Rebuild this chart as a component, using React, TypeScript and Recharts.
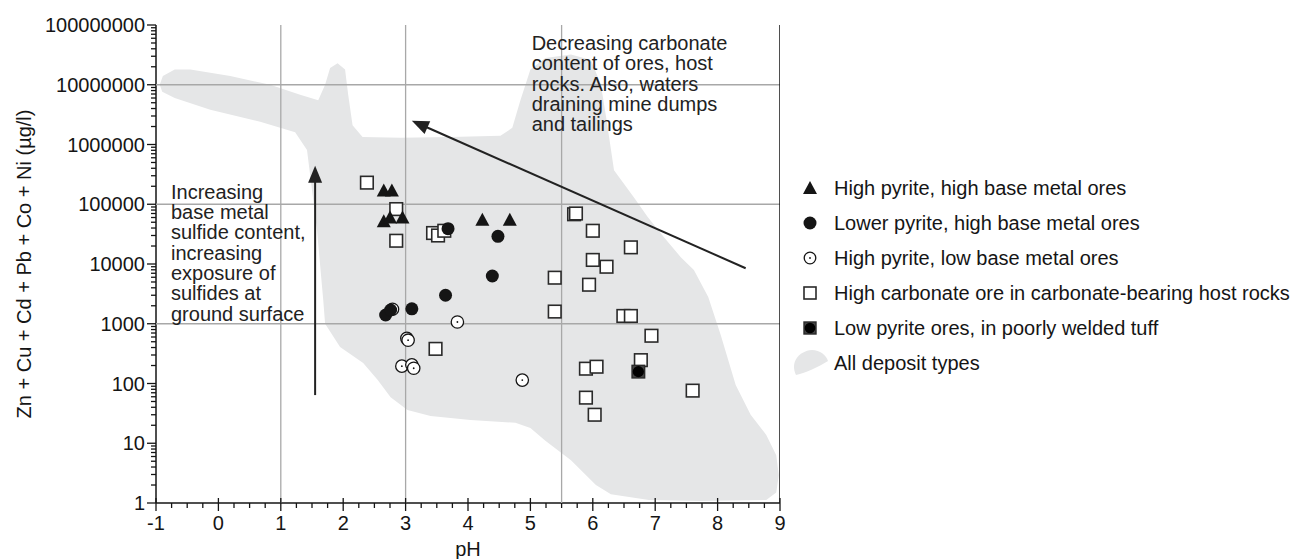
import React from 'react';
import { ScatterChart, Scatter, XAxis, YAxis, Legend, Curve } from 'recharts';

const FONT = '"Liberation Sans", Arial, Helvetica, sans-serif';
const FS = 20;
const INK = '#151515';

// ---- axis ticks ----
const phMajor = [-1, 0, 1, 2, 3, 4, 5, 6, 7, 8, 9];
const phMinorSteps = [0.25, 0.5, 0.75];
const decades = [1, 10, 100, 1000, 10000, 100000, 1000000, 10000000, 100000000];
const decadeMultipliers = [2, 3, 4, 5, 6, 7, 8, 9];

const xTicks = [...phMajor, ...phMajor.slice(0, -1).flatMap((m) => phMinorSteps.map((s) => m + s))].sort((a, b) => a - b);
const yTicks = [...decades, ...decades.slice(0, -1).flatMap((d) => decadeMultipliers.map((m) => m * d))].sort((a, b) => a - b);

// ---- grid lines ----
const gridPH = [1, 3, 5.5];
const gridVal = [1000, 100000, 10000000];

// ---- series ----
const triPH = [2.65, 2.78, 2.65, 2.75, 2.95, 4.23, 4.67];
const triVal = [170000, 170000, 52000, 60000, 60000, 55000, 55000];

const fillCircPH = [3.68, 4.48, 4.39, 3.64, 2.68, 2.76, 3.10];
const fillCircVal = [39000, 29000, 6300, 3000, 1400, 1700, 1780];

const openCircPH = [2.79, 3.02, 3.04, 2.94, 3.10, 3.13, 3.83, 4.87];
const openCircVal = [1750, 570, 530, 195, 205, 180, 1070, 114];

const squarePH = [2.38, 2.85, 2.85, 3.44, 3.52, 3.62, 3.48, 5.70, 5.73, 6.0, 6.61, 6.0, 6.22, 5.39, 5.94, 5.39, 6.49, 6.61, 6.94, 6.77, 5.89, 6.06, 7.60, 5.89, 6.03];
const squareVal = [230000, 83000, 24500, 33000, 30000, 36000, 380, 68000, 70000, 36000, 19000, 11700, 9000, 5900, 4500, 1600, 1350, 1350, 630, 246, 177, 191, 76, 58, 30];

const tuffPH = [6.73];
const tuffVal = [158];

// "All deposit types" envelope
const regionPH = [-0.94, -0.89, -0.70, -0.45, 0.19, 0.83, 1.31, 1.60, 1.71, 1.79, 1.91, 2.03, 2.08, 2.15, 2.31, 2.92, 3.72, 4.52, 4.71, 4.84, 5.00, 5.24, 5.65, 5.97, 6.13, 6.22, 6.34, 6.66, 6.88, 7.14, 7.41, 7.62, 7.85, 8.05, 8.29, 8.53, 8.78, 8.94, 8.98, 8.94, 8.78, 7.73, 6.90, 6.29, 6.05, 5.65, 5.24, 5.00, 4.76, 4.04, 3.40, 3.03, 2.76, 2.55, 2.32, 1.95, 1.71, 1.68, 1.58, 1.47, 1.42, 1.23, 0.67, -0.13, -0.70, -0.90];
const regionVal = [1.0e7, 1.4e7, 1.8e7, 1.8e7, 1.4e7, 1.0e7, 6.8e6, 5.5e6, 1.0e7, 1.9e7, 2.3e7, 1.8e7, 6.8e6, 2.1e6, 1.34e6, 1.3e6, 1.34e6, 1.4e6, 1.9e6, 5.5e6, 1.8e7, 2.8e7, 3.2e7, 2.6e7, 1.0e7, 2.6e6, 3.7e5, 1.3e5, 6.1e4, 2.8e4, 1.3e4, 7.9e3, 2.8e3, 650, 94, 30, 13.8, 6.3, 2.9, 1.5, 1.12, 1.08, 1.12, 1.4, 2.0, 5.2, 11, 18, 22, 24.5, 28.5, 36, 59, 115, 220, 410, 1000, 2500, 37000, 3.1e5, 8.1e5, 1.6e6, 2.4e6, 3.8e6, 6.0e6, 7.6e6];

// arrows: [tail, tip]
const arrowUpPH = [1.55, 1.55];
const arrowUpVal = [64, 440000];
const arrowDiagPH = [8.45, 3.10];
const arrowDiagVal = [8500, 2500000];

// annotation texts (anchor = first baseline, left)
const noteLeftLines = ['Increasing', 'base metal', 'sulfide content,', 'increasing', 'exposure of', 'sulfides at', 'ground surface'];
const noteLeftAt = { ph: -0.76, v: 123000 };
const noteRightLines = ['Decreasing carbonate', 'content of ores, host', 'rocks. Also, waters', 'draining mine dumps', 'and tailings'];
const noteRightAt = { ph: 5.02, v: 38000000 };

const legendLabels = [
  'High pyrite, high base metal ores',
  'Lower pyrite, high base metal ores',
  'High pyrite, low base metal ores',
  'High carbonate ore in carbonate-bearing host rocks',
  'Low pyrite ores, in poorly welded tuff',
  'All deposit types',
];

const zip = (xs: number[], ys: number[]) => xs.map((ph, i) => ({ ph, v: ys[i] }));

const triData = zip(triPH, triVal);
const fillCircData = zip(fillCircPH, fillCircVal);
const openCircData = zip(openCircPH, openCircVal);
const squareData = zip(squarePH, squareVal);
const tuffData = zip(tuffPH, tuffVal);
const regionData = zip(regionPH, regionVal);

// ---- shapes ----
const Triangle = ({ cx, cy }: any) => (
  <polygon points={`${cx},${cy - 7} ${cx - 7},${cy + 6} ${cx + 7},${cy + 6}`} fill={INK} />
);
const FilledCircle = ({ cx, cy }: any) => <circle cx={cx} cy={cy} r={6.5} fill={INK} />;
const OpenCircle = ({ cx, cy }: any) => (
  <g>
    <circle cx={cx} cy={cy} r={6.2} fill="#fff" stroke={INK} strokeWidth={1.3} />
    <circle cx={cx} cy={cy} r={0.9} fill={INK} />
  </g>
);
const OpenSquare = ({ cx, cy }: any) => (
  <rect x={cx - 6.3} y={cy - 6.3} width={12.6} height={12.6} fill="#fff" stroke="#2a2a2a" strokeWidth={1.6} />
);
const TuffSquare = ({ cx, cy }: any) => (
  <g>
    <rect x={cx - 6.3} y={cy - 6.3} width={12.6} height={12.6} fill="#444" stroke="#2a2a2a" strokeWidth={1.4} />
    <circle cx={cx} cy={cy} r={5.6} fill="#000" />
  </g>
);
const NoShape = () => <g />;

const regionLine = (p: any) => <Curve points={p.points} type="linearClosed" fill="#e5e6e7" stroke="none" />;
const gridLine = (p: any) => {
  const [a, b] = p.points;
  return <line x1={a.x} y1={a.y} x2={b.x} y2={b.y} stroke="#a8a8a8" strokeWidth={1.3} />;
};
const frameLine = (p: any) => {
  const [a, b] = p.points;
  return <line x1={a.x} y1={a.y} x2={b.x} y2={b.y} stroke={INK} strokeWidth={1.5} />;
};
const arrowLine = (p: any) => {
  const [a, b] = p.points;
  const dx = b.x - a.x;
  const dy = b.y - a.y;
  const len = Math.hypot(dx, dy);
  const ux = dx / len;
  const uy = dy / len;
  const L = 17;
  const W = 7;
  const bx = b.x - ux * L;
  const by = b.y - uy * L;
  return (
    <g>
      <line x1={a.x} y1={a.y} x2={bx + ux * 2} y2={by + uy * 2} stroke="#222" strokeWidth={2} />
      <polygon points={`${b.x},${b.y} ${bx - uy * W},${by + ux * W} ${bx + uy * W},${by - ux * W}`} fill="#222" />
    </g>
  );
};

const makeNote = (lines: string[]) => ({ cx, cy }: any) => (
  <text x={cx} y={cy} fontFamily={FONT} fontSize={FS} fill="#222">
    {lines.map((l, i) => (
      <tspan key={i} x={cx} dy={i === 0 ? 0 : 20.3}>
        {l}
      </tspan>
    ))}
  </text>
);
const NoteLeft = makeNote(noteLeftLines);
const NoteRight = makeNote(noteRightLines);

// ---- ticks ----
const XTick = (props: any) => {
  const { x, y, payload } = props;
  const major = phMajor.includes(payload.value);
  return (
    <g>
      <line x1={x} x2={x} y1={y - (major ? 5 : 0)} y2={y + (major ? 8 : 5)} stroke={INK} strokeWidth={1.3} />
      {major && (
        <text x={x} y={y + 27} textAnchor="middle" fontFamily={FONT} fontSize={FS} fill={INK}>
          {payload.value}
        </text>
      )}
    </g>
  );
};
const YTick = (props: any) => {
  const { x, y, payload } = props;
  const major = decades.includes(payload.value);
  return (
    <g>
      <line x1={x - (major ? 9 : 5)} x2={x} y1={y} y2={y} stroke={INK} strokeWidth={1.3} />
      {major && (
        <text x={x - 11} y={y} dy="0.36em" textAnchor="end" fontFamily={FONT} fontSize={FS} fill={INK}>
          {String(payload.value)}
        </text>
      )}
    </g>
  );
};

// ---- legend ----
const LegendBox = () => {
  const rowY = (i: number) => 18 + i * 35;
  const mx = 20;
  return (
    <svg width={520} height={220} style={{ display: 'block' }}>
      <polygon points={`${mx},${rowY(0) - 7} ${mx - 7},${rowY(0) + 6} ${mx + 7},${rowY(0) + 6}`} fill={INK} />
      <circle cx={mx} cy={rowY(1)} r={6.5} fill={INK} />
      <circle cx={mx} cy={rowY(2)} r={5.8} fill="#fff" stroke={INK} strokeWidth={1.3} />
      <circle cx={mx} cy={rowY(2)} r={0.9} fill={INK} />
      <rect x={mx - 6} y={rowY(3) - 6} width={12} height={12} fill="#fff" stroke="#2a2a2a" strokeWidth={1.6} />
      <rect x={mx - 6} y={rowY(4) - 6} width={12} height={12} fill="#444" stroke="#2a2a2a" strokeWidth={1.4} />
      <circle cx={mx} cy={rowY(4)} r={5.3} fill="#000" />
      <path
        d={`M ${mx - 14} ${rowY(5) + 12} C ${mx - 20} ${rowY(5)}, ${mx - 12} ${rowY(5) - 12}, ${mx + 2} ${rowY(5) - 13} C ${mx + 10} ${rowY(5) - 13}, ${mx + 16} ${rowY(5) - 8}, ${mx + 18} ${rowY(5) - 2} C ${mx + 8} ${rowY(5) + 4}, ${mx - 4} ${rowY(5) + 10}, ${mx - 14} ${rowY(5) + 12} Z`}
        fill="#e5e6e7"
      />
      {legendLabels.map((t, i) => (
        <text key={t} x={44} y={rowY(i)} dy="0.36em" fontFamily={FONT} fontSize={FS} fill={INK}>
          {t}
        </text>
      ))}
    </svg>
  );
};

export default function App() {
  return (
    <div style={{ position: 'absolute', left: 0, top: 0, width: 1312, height: 559, background: '#fff' }}>
      <ScatterChart width={1312} height={559} margin={{ top: 25, right: 532, bottom: 26, left: 96 }}>
        <XAxis
          dataKey="ph"
          type="number"
          domain={[-1, 9]}
          ticks={xTicks}
          interval={0}
          allowDataOverflow
          height={30}
          tickSize={0}
          tickMargin={0}
          tickLine={false}
          tick={<XTick />}
          axisLine={{ stroke: INK, strokeWidth: 1.5 }}
          label={(p: any) => (
            <text x={p.viewBox.x + p.viewBox.width / 2} y={p.viewBox.y + 53} textAnchor="middle" fontFamily={FONT} fontSize={FS} fill={INK}>
              pH
            </text>
          )}
        />
        <YAxis
          dataKey="v"
          type="number"
          scale="log"
          domain={[1, 100000000]}
          ticks={yTicks}
          interval={0}
          allowDataOverflow
          width={60}
          tickSize={0}
          tickMargin={0}
          tickLine={false}
          tick={<YTick />}
          axisLine={{ stroke: INK, strokeWidth: 1.5 }}
          label={(p: any) => {
            const cx = p.viewBox.x + p.viewBox.width - 132;
            const cy = p.viewBox.y + p.viewBox.height / 2;
            return (
              <text x={cx} y={cy} transform={`rotate(-90 ${cx} ${cy})`} textAnchor="middle" dy="0.36em" fontFamily={FONT} fontSize={FS} fill={INK}>
                Zn + Cu + Cd + Pb + Co + Ni (µg/l)
              </text>
            );
          }}
        />
        <Scatter name="All deposit types" data={regionData} fill="#e5e6e7" shape={<NoShape />} line={regionLine} isAnimationActive={false} />
        {gridPH.map((g) => (
          <Scatter key={'gx' + g} data={[{ ph: g, v: 1 }, { ph: g, v: 100000000 }]} shape={<NoShape />} line={gridLine} isAnimationActive={false} legendType="none" />
        ))}
        {gridVal.map((g) => (
          <Scatter key={'gy' + g} data={[{ ph: -1, v: g }, { ph: 9, v: g }]} shape={<NoShape />} line={gridLine} isAnimationActive={false} legendType="none" />
        ))}
        <Scatter data={[{ ph: 9, v: 1 }, { ph: 9, v: 100000000 }]} shape={<NoShape />} line={frameLine} isAnimationActive={false} legendType="none" />
        <Scatter data={zip(arrowUpPH, arrowUpVal)} shape={<NoShape />} line={arrowLine} isAnimationActive={false} legendType="none" />
        <Scatter data={zip(arrowDiagPH, arrowDiagVal)} shape={<NoShape />} line={arrowLine} isAnimationActive={false} legendType="none" />
        <Scatter data={[noteLeftAt]} shape={<NoteLeft />} isAnimationActive={false} legendType="none" />
        <Scatter data={[noteRightAt]} shape={<NoteRight />} isAnimationActive={false} legendType="none" />
        <Scatter name={legendLabels[3]} data={squareData} shape={<OpenSquare />} isAnimationActive={false} />
        <Scatter name={legendLabels[2]} data={openCircData} shape={<OpenCircle />} isAnimationActive={false} />
        <Scatter name={legendLabels[1]} data={fillCircData} shape={<FilledCircle />} isAnimationActive={false} />
        <Scatter name={legendLabels[0]} data={triData} shape={<Triangle />} isAnimationActive={false} />
        <Scatter name={legendLabels[4]} data={tuffData} shape={<TuffSquare />} isAnimationActive={false} />
        <Legend
          layout="horizontal"
          align="center"
          verticalAlign="middle"
          content={() => <LegendBox />}
          wrapperStyle={{ left: 790, top: 170, width: 520, height: 220 }}
        />
      </ScatterChart>
    </div>
  );
}
